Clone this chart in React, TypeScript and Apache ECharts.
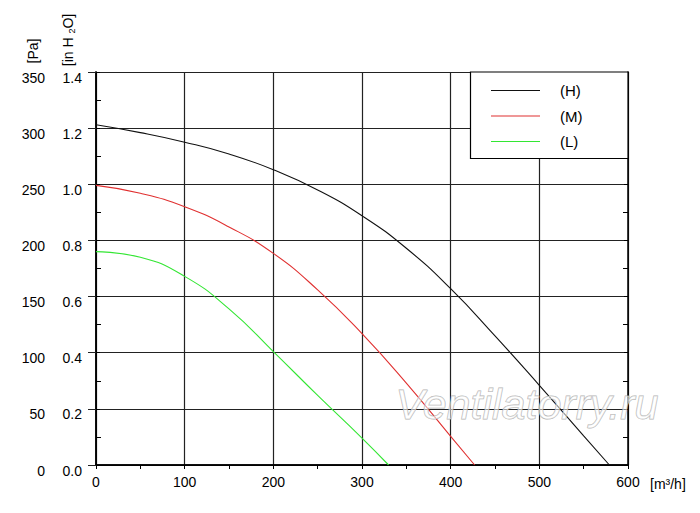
import React, { useEffect, useRef } from "react";
import * as echarts from "echarts";

const FONT = "'Liberation Sans', Arial, sans-serif";

const seriesNames = ["(H)", "(M)", "(L)"];
const seriesColors = ["#111111", "#e03030", "#33e633"];

const hFlow = [0, 50, 100, 150, 200, 250, 300, 350, 400, 450, 500, 550, 579];
const hPa = [303, 296, 287.5, 277, 263, 245, 222, 193, 157, 115, 71, 26, 0];

const mFlow = [0, 50, 100, 150, 200, 250, 300, 350, 400, 427];
const mPa = [249, 242, 230, 212, 188.5, 156, 117, 73, 25.5, 0];

const lFlow = [0, 50, 100, 150, 200, 250, 300, 330];
const lPa = [190, 185, 168, 139, 101, 62, 24, 0];

const xTicks = { min: 0, max: 600, interval: 100 };
const paTicks = { min: 0, max: 350, interval: 50 };
const inTicks = { min: 0, max: 1.4, interval: 0.2 };

const watermark = "Ventilatorry.ru";
const xUnit = "[m³/h]";

function pairs(xs: number[], ys: number[]) {
  return xs.map((x, i) => [x, ys[i]]);
}

export default function App() {
  const ref = useRef<HTMLDivElement>(null);
  useEffect(() => {
    if (!ref.current) return;
    const chart = echarts.init(ref.current, null, { renderer: "svg" });
    const axisLine = { show: true, lineStyle: { color: "#000", width: 1.5 } };
    const gridLine = { show: true, lineStyle: { color: "#222", width: 1.2 } };
    const yLabelRich = {
      a: { fontSize: 14, fontFamily: FONT, color: "#000", padding: [11, 0, 0, 0] },
    };
    const dataSets = [pairs(hFlow, hPa), pairs(mFlow, mPa), pairs(lFlow, lPa)];
    chart.setOption({
      animation: false,
      backgroundColor: "#fff",
      grid: { left: 96, right: 72, top: 72, bottom: 48 },
      xAxis: [
        {
          type: "value",
          ...xTicks,
          position: "bottom",
          axisLine,
          axisTick: { show: true, length: 4, lineStyle: { color: "#000" } },
          minorTick: { show: true, splitNumber: 2, length: 4, lineStyle: { color: "#000" } },
          splitLine: gridLine,
          axisLabel: { color: "#000", fontSize: 14, fontFamily: FONT, margin: 10 },
        },
        {
          type: "value",
          ...xTicks,
          position: "top",
          axisLine,
          axisTick: { show: true, inside: true, length: 4, lineStyle: { color: "#000" } },
          minorTick: { show: true, splitNumber: 2, length: 4, lineStyle: { color: "#000" } },
          splitLine: { show: false },
          axisLabel: { show: false },
        },
      ],
      yAxis: [
        {
          type: "value",
          ...paTicks,
          position: "left",
          axisLine,
          axisTick: { show: true, length: 8, lineStyle: { color: "#222" } },
          splitLine: gridLine,
          axisLabel: {
            margin: 51,
            formatter: (v: number) => "{a|" + v + "}",
            rich: yLabelRich,
          },
        },
        {
          type: "value",
          ...inTicks,
          position: "left",
          axisLine,
          axisTick: { show: true, inside: true, length: 4, lineStyle: { color: "#000" } },
          minorTick: { show: true, splitNumber: 2, length: 5, lineStyle: { color: "#000" } },
          splitLine: { show: false },
          axisLabel: {
            margin: 14,
            formatter: (v: number) => "{a|" + v.toFixed(1) + "}",
            rich: yLabelRich,
          },
        },
        {
          type: "value",
          ...paTicks,
          position: "right",
          axisLine,
          axisTick: { show: true, inside: true, length: 4, lineStyle: { color: "#000" } },
          minorTick: { show: true, splitNumber: 2, length: 5, lineStyle: { color: "#000" } },
          splitLine: { show: false },
          axisLabel: { show: false },
        },
      ],
      legend: {
        orient: "vertical",
        left: 491,
        top: 83,
        padding: 0,
        itemWidth: 49,
        itemHeight: 1.2,
        itemGap: 10.5,
        icon: "rect",
        z: 20,
        data: seriesNames,
        textStyle: {
          color: "#000",
          fontSize: 15,
          lineHeight: 14,
          fontFamily: FONT,
          padding: [0, 0, 0, 15],
        },
      },
      graphic: [
        {
          type: "rect",
          z: 10,
          shape: { x: 470.5, y: 72, width: 157.5, height: 86.5 },
          style: { fill: "#fff", stroke: "#000", lineWidth: 1.2 },
        },
        {
          type: "text",
          z: 5,
          x: 527,
          y: 404,
          style: {
            text: watermark,
            align: "center",
            verticalAlign: "middle",
            font: "italic 43px 'Liberation Sans', Arial, sans-serif",
            fill: "rgba(255,255,255,0.55)",
            stroke: "rgba(165,165,165,0.85)",
            lineWidth: 1,
          },
        },
        {
          type: "text",
          x: 33,
          y: 51,
          rotation: Math.PI / 2,
          style: {
            text: "[Pa]",
            align: "center",
            verticalAlign: "middle",
            font: "14px 'Liberation Sans', Arial, sans-serif",
            fill: "#000",
          },
        },
        {
          type: "text",
          x: 68,
          y: 40,
          rotation: Math.PI / 2,
          style: {
            text: "[in H {s|2}O]",
            align: "center",
            verticalAlign: "middle",
            font: "14px 'Liberation Sans', Arial, sans-serif",
            fill: "#000",
            rich: {
              s: {
                fontSize: 9,
                fontFamily: FONT,
                fill: "#000",
                padding: [7, 0, 0, 0],
              },
            },
          },
        },
        {
          type: "text",
          x: 650,
          y: 484,
          style: {
            text: xUnit,
            align: "left",
            verticalAlign: "middle",
            font: "14px 'Liberation Sans', Arial, sans-serif",
            fill: "#000",
          },
        },
      ],
      series: dataSets.map((d, i) => ({
        name: seriesNames[i],
        type: "line",
        data: d,
        xAxisIndex: 0,
        yAxisIndex: 0,
        smooth: 0.5,
        symbol: "none",
        lineStyle: { color: seriesColors[i], width: 1.1 },
        itemStyle: { color: seriesColors[i] },
        z: 3,
      })),
    });
    return () => chart.dispose();
  }, []);
  return (
    <div
      ref={ref}
      style={{ position: "fixed", left: 0, top: 0, width: 700, height: 513 }}
    />
  );
}
